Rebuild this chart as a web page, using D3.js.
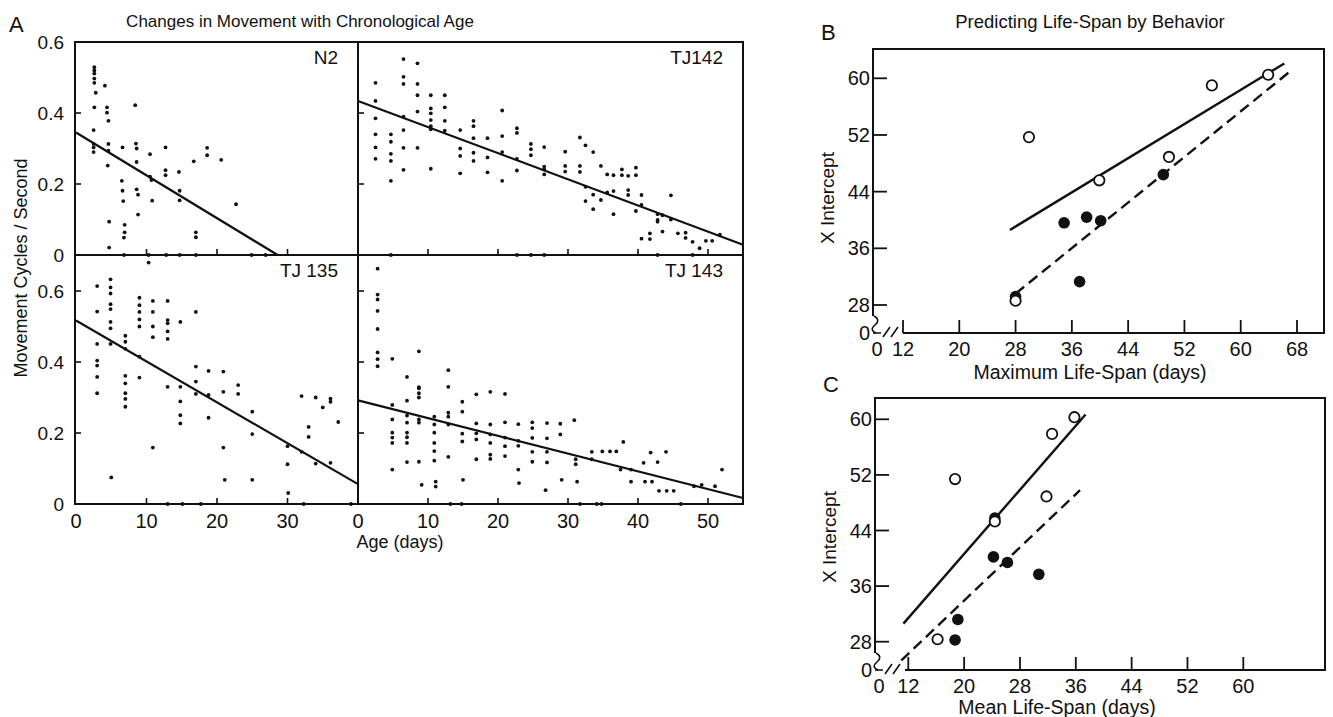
<!DOCTYPE html>
<html><head><meta charset="utf-8">
<script src="https://cdn.jsdelivr.net/npm/d3@7"></script>
<style>
body{margin:0;background:#fff}
svg{display:block}
text{font-family:"Liberation Sans",Arial,sans-serif;fill:#111}
</style>
</head><body>
<svg id="chart" width="1333" height="717"></svg>
<script>
// ---------------- DATA ----------------
// Panel A: [age (days), movement cycles/second]
const n2Points = [[2.6,0.529],[2.6,0.520],[2.6,0.511],[2.6,0.497],[2.6,0.485],[2.8,0.457],[2.6,0.416],[2.5,0.352],[2.5,0.313],[2.5,0.303],[2.5,0.290],
 [4.1,0.477],[4.4,0.416],[4.4,0.401],[4.6,0.378],[4.6,0.313],[4.6,0.294],[4.5,0.252],[4.7,0.094],[4.7,0.021],
 [6.6,0.303],[6.5,0.209],[6.6,0.181],[6.7,0.152],[6.9,0.085],[6.9,0.064],[6.8,0.049],[6.8,0.0],
 [8.4,0.422],[8.5,0.314],[8.6,0.300],[8.6,0.262],[8.6,0.185],[8.8,0.170],[8.8,0.114],
 [10.5,0.284],[10.5,0.221],[10.7,0.211],[10.8,0.153],[10.3,0.0],
 [12.7,0.303],[12.7,0.239],[12.7,0.225],[12.8,0.0],
 [14.6,0.234],[14.7,0.181],[14.7,0.154],[14.7,0.0],
 [16.7,0.264],[17.0,0.064],[17.0,0.050],[17.0,0.0],
 [18.6,0.302],[18.6,0.281],[20.6,0.268],[22.7,0.143],[24.9,0.0],[26.9,0.0]];
const n2Line = [[0,0.345],[28.6,0]];

const tj142Points = [[2.5,0.485],[2.5,0.434],[2.5,0.385],[2.5,0.340],[2.5,0.303],[2.5,0.271],
 [4.7,0.340],[4.7,0.319],[4.7,0.285],[4.7,0.265],[4.7,0.209],[4.7,0.0],
 [6.5,0.552],[6.5,0.502],[6.5,0.482],[6.5,0.390],[6.5,0.352],[6.5,0.302],[6.5,0.240],
 [8.5,0.540],[8.5,0.482],[8.5,0.450],[8.5,0.404],[8.5,0.302],
 [10.4,0.450],[10.4,0.413],[10.4,0.399],[10.4,0.380],[10.4,0.363],[10.4,0.354],[10.4,0.243],
 [12.4,0.450],[12.4,0.416],[12.4,0.378],[12.4,0.350],
 [14.6,0.352],[14.6,0.300],[14.6,0.279],[14.6,0.230],
 [16.5,0.378],[16.5,0.363],[16.5,0.329],[16.5,0.288],[16.5,0.265],
 [18.5,0.329],[18.5,0.275],[18.5,0.233],
 [20.6,0.407],[20.6,0.335],[20.6,0.290],[20.6,0.209],
 [22.7,0.357],[22.7,0.344],[22.7,0.271],[22.7,0.238],[22.7,0.0],
 [24.7,0.313],[24.7,0.298],[24.7,0.281],[24.7,0.0],
 [26.6,0.304],[26.6,0.249],[26.6,0.241],[26.6,0.227],[26.6,0.0],
 [29.6,0.291],[29.6,0.251],[29.6,0.235],
 [31.7,0.331],[31.7,0.251],[31.7,0.234],
 [32.5,0.309],[32.5,0.192],[32.5,0.152],
 [33.6,0.290],[33.6,0.170],[33.6,0.129],
 [34.7,0.251],[34.7,0.155],[35.6,0.227],[35.6,0.176],
 [36.5,0.225],[36.5,0.180],[36.5,0.115],
 [37.7,0.241],[37.7,0.225],[38.6,0.223],[38.6,0.183],[38.6,0.169],
 [39.7,0.246],[39.7,0.225],[39.7,0.124],
 [40.5,0.169],[40.5,0.141],[40.5,0.046],[41.7,0.061],[41.7,0.045],
 [42.8,0.115],[42.8,0.099],[42.8,0.094],[42.8,0.0],[43.5,0.112],[43.5,0.066],
 [44.7,0.168],[44.7,0.100],[45.7,0.061],[46.8,0.063],[46.8,0.048],
 [47.8,0.037],[47.8,0.0],[48.8,0.019],[49.7,0.040],[50.6,0.040],[51.7,0.057]];
const tj142Line = [[0,0.434],[55,0.029]];

const tj135Points = [[3.0,0.614],[3.0,0.542],[3.0,0.451],[3.0,0.404],[3.0,0.390],[3.0,0.358],[3.0,0.312],
 [4.9,0.633],[4.9,0.610],[4.9,0.593],[4.9,0.563],[4.9,0.549],[4.9,0.513],[4.9,0.495],[4.9,0.451],[5.0,0.075],
 [7.0,0.474],[7.0,0.457],[7.0,0.437],[7.0,0.361],[7.0,0.340],[7.0,0.312],[7.0,0.296],[7.0,0.274],
 [9.0,0.581],[9.0,0.560],[9.0,0.541],[9.0,0.520],[9.0,0.500],[9.0,0.415],[9.0,0.356],
 [10.3,0.680],[10.9,0.572],[10.9,0.541],[10.9,0.500],[10.9,0.470],[10.9,0.159],
 [13.0,0.572],[13.0,0.518],[13.0,0.509],[13.0,0.486],[13.0,0.465],[13.0,0.330],[13.0,0.0],
 [14.8,0.513],[14.8,0.330],[14.8,0.289],[14.8,0.250],[14.8,0.227],[15.1,0.0],
 [17.0,0.541],[17.0,0.387],[17.0,0.345],[17.0,0.310],[17.7,0.0],
 [18.8,0.375],[18.8,0.307],[18.8,0.243],
 [20.9,0.373],[20.9,0.316],[20.9,0.159],[21.1,0.068],
 [23.0,0.335],[23.0,0.310],[25.0,0.260],[25.0,0.197],[25.0,0.068],
 [30.0,0.163],[30.0,0.112],[30.1,0.031],[32.0,0.304],[32.0,0.147],[32.3,0.0],
 [33.0,0.217],[33.0,0.189],[34.0,0.300],[34.0,0.114],[35.0,0.272],
 [36.1,0.297],[36.1,0.288],[36.1,0.116],[37.2,0.231],[39.0,0.0]];
const tj135Line = [[0,0.517],[40,0.056]];

const tj143Points = [[2.8,0.663],[2.8,0.590],[2.8,0.576],[2.8,0.544],[2.8,0.493],[2.8,0.427],[2.8,0.408],[2.8,0.388],
 [4.9,0.409],[4.9,0.279],[4.9,0.238],[4.9,0.201],[4.9,0.187],[4.9,0.172],[4.9,0.097],
 [7.0,0.358],[7.0,0.291],[7.0,0.249],[7.0,0.229],[7.0,0.201],[7.0,0.188],[7.0,0.172],[7.0,0.118],
 [8.7,0.430],[8.7,0.329],[8.7,0.326],[8.7,0.312],[8.7,0.300],[8.7,0.238],[8.7,0.229],[8.7,0.119],[9.1,0.054],
 [10.9,0.246],[10.9,0.224],[10.9,0.201],[10.9,0.172],[10.9,0.149],[10.9,0.122],[11.1,0.063],[11.1,0.049],
 [12.9,0.377],[12.9,0.330],[12.9,0.257],[12.9,0.246],[12.9,0.224],[12.9,0.133],[13.2,0.0],
 [14.9,0.288],[14.9,0.260],[14.9,0.198],[14.9,0.176],[15.0,0.068],[14.8,0.0],
 [16.9,0.309],[16.9,0.227],[16.9,0.199],[16.9,0.182],[16.9,0.126],
 [18.9,0.316],[18.9,0.224],[18.9,0.196],[18.9,0.172],[18.9,0.139],[18.9,0.127],
 [21.0,0.310],[21.0,0.230],[21.0,0.187],[21.0,0.163],[21.0,0.135],
 [22.9,0.225],[22.9,0.178],[22.9,0.164],[22.9,0.097],[23.0,0.059],
 [24.9,0.230],[24.9,0.214],[24.9,0.186],[24.9,0.147],[24.9,0.119],
 [27.0,0.228],[27.0,0.185],[27.0,0.147],[27.0,0.117],[26.8,0.039],
 [28.9,0.226],[28.9,0.196],[29.1,0.068],[30.9,0.236],[31.1,0.126],[31.1,0.112],[31.3,0.063],[31.7,0.0],
 [33.4,0.147],[33.4,0.126],[34.1,0.0],[34.8,0.0],[34.9,0.148],[36.0,0.148],[36.9,0.148],
 [37.5,0.097],[37.9,0.175],[39.0,0.097],[39.0,0.063],[40.8,0.116],[41.0,0.063],[41.8,0.145],[42.0,0.063],
 [42.8,0.118],[43.0,0.037],[44.0,0.147],[44.1,0.037],[45.1,0.037],[46.1,0.0],
 [48.0,0.050],[49.1,0.054],[51.0,0.050],[52.0,0.097]];
const tj143Line = [[0,0.292],[55,0.017]];

const ageTicksLeft = [0,10,20,30];
const ageTicksRight = [0,10,20,30,40,50];
const moveTicksTop = [0,0.2,0.4,0.6];
const moveTicksBottom = [0,0.2,0.4,0.6];

// Panel B: [maximum life-span, x intercept]
const bOpen = [[29.9,51.7],[39.9,45.6],[49.8,48.9],[55.9,59.0],[63.9,60.5],[28.0,28.6]];
const bFilled = [[28.0,29.2],[34.9,39.6],[38.1,40.4],[40.1,39.9],[37.1,31.3],[49.0,46.4]];
const bSolid = [[27.2,38.6],[66.2,62.1]];
const bDashed = [[28.0,29.6],[66.8,60.8]];
const bXTicks = [12,20,28,36,44,52,60,68];
const bYTicks = [28,36,44,52,60];

// Panel C: [mean life-span, x intercept]
const cOpen = [[35.8,60.3],[32.6,57.9],[18.7,51.4],[31.8,48.9],[24.4,45.3],[16.2,28.35]];
const cFilled = [[24.4,45.8],[24.2,40.2],[26.2,39.4],[30.7,37.7],[19.1,31.2],[18.7,28.25]];
const cSolid = [[11.3,30.6],[37.4,60.7]];
const cDashed = [[11.0,25.3],[36.6,49.8]];
const cXTicks = [12,20,28,36,44,52,60];
const cYTicks = [28,36,44,52,60];

// ---------------- DRAW ----------------
const svg = d3.select("#chart");
const ink = "#111";

// Panel A geometry
const A = {left:75, mid:358, right:743, top:42, midY:255, bottom:504};
const xL = d3.scaleLinear().domain([0,40]).range([76,358]);
const xR = d3.scaleLinear().domain([0,55]).range([358,743]);
const yT = d3.scaleLinear().domain([0,0.6]).range([A.midY,A.top]);
const yB = d3.scaleLinear().domain([0,0.7]).range([A.bottom,A.bottom-0.7*355]);

const gA = svg.append("g");
function subPanel(x, y, pts, ln, label, clipX0, clipX1, clipY0, clipY1){
  const g = gA.append("g");
  g.selectAll("circle").data(pts).enter().append("circle")
    .attr("cx", d=>x(d[0])).attr("cy", d=>y(d[1])).attr("r",1.9).attr("fill",ink);
  g.append("path").datum(ln)
    .attr("d", d3.line().x(d=>x(d[0])).y(d=>y(d[1])))
    .attr("stroke",ink).attr("stroke-width",2.2).attr("fill","none");
  g.append("text").attr("x",clipX1-20).attr("y",clipY0+22).attr("text-anchor","end")
    .attr("font-size",19).text(label);
}
subPanel(xL,yT,n2Points,n2Line,"N2",A.left,A.mid,A.top,A.midY);
subPanel(xR,yT,tj142Points,tj142Line,"TJ142",A.mid,A.right,A.top,A.midY);
subPanel(xL,yB,tj135Points,tj135Line,"TJ 135",A.left,A.mid,A.midY,A.bottom);
subPanel(xR,yB,tj143Points,tj143Line,"TJ 143",A.mid,A.right,A.midY,A.bottom);

// frame
gA.append("rect").attr("x",A.left).attr("y",A.top).attr("width",A.right-A.left).attr("height",A.bottom-A.top)
  .attr("fill","none").attr("stroke",ink).attr("stroke-width",2);
gA.append("line").attr("x1",A.mid).attr("x2",A.mid).attr("y1",A.top).attr("y2",A.bottom).attr("stroke",ink).attr("stroke-width",2);
gA.append("line").attr("x1",A.left).attr("x2",A.right).attr("y1",A.midY).attr("y2",A.midY).attr("stroke",ink).attr("stroke-width",2);

// ticks (inward)
function xTicksInward(x, ticks, yBase){
  gA.append("g").selectAll("line").data(ticks.filter(t=>t>0)).enter().append("line")
    .attr("x1",d=>x(d)).attr("x2",d=>x(d)).attr("y1",yBase).attr("y2",yBase-6)
    .attr("stroke",ink).attr("stroke-width",1.6);
}
xTicksInward(xL,ageTicksLeft,A.midY); xTicksInward(xR,ageTicksRight,A.midY);
xTicksInward(xL,ageTicksLeft,A.bottom); xTicksInward(xR,ageTicksRight,A.bottom);
function yTicksInward(y, ticks, xBase){
  gA.append("g").selectAll("line").data(ticks.filter(t=>t>0 && t<0.6)).enter().append("line")
    .attr("x1",xBase).attr("x2",xBase+6).attr("y1",d=>y(d)).attr("y2",d=>y(d))
    .attr("stroke",ink).attr("stroke-width",1.6);
}
yTicksInward(yT,moveTicksTop,A.left); yTicksInward(yT,moveTicksTop,A.mid);
gA.append("g").selectAll("line").data(moveTicksBottom.filter(t=>t>0)).enter().append("line")
  .attr("x1",A.left).attr("x2",A.left+6).attr("y1",d=>yB(d)).attr("y2",d=>yB(d)).attr("stroke",ink).attr("stroke-width",1.6);
gA.append("g").selectAll("line").data(moveTicksBottom.filter(t=>t>0)).enter().append("line")
  .attr("x1",A.mid).attr("x2",A.mid+6).attr("y1",d=>yB(d)).attr("y2",d=>yB(d)).attr("stroke",ink).attr("stroke-width",1.6);

// tick labels
const fmtA = d => d===0 ? "0" : d3.format(".1f")(d);
gA.append("g").selectAll("text").data(moveTicksTop.filter(t=>t>0)).enter().append("text")
  .attr("x",64).attr("y",d=>yT(d)+7).attr("text-anchor","end").attr("font-size",19).text(fmtA);
gA.append("g").selectAll("text").data(moveTicksBottom).enter().append("text")
  .attr("x",64).attr("y",d=>yB(d)+7).attr("text-anchor","end").attr("font-size",19).text(fmtA);
gA.append("text").attr("x",64).attr("y",A.midY+7).attr("text-anchor","end").attr("font-size",19).text("0");
gA.append("g").selectAll("text").data(ageTicksLeft).enter().append("text")
  .attr("x",d=>xL(d)).attr("y",528).attr("text-anchor","middle").attr("font-size",20).text(d=>d);
gA.append("g").selectAll("text").data(ageTicksRight).enter().append("text")
  .attr("x",d=>xR(d)).attr("y",528).attr("text-anchor","middle").attr("font-size",20).text(d=>d);

gA.append("text").attr("x",400).attr("y",548).attr("text-anchor","middle").attr("font-size",18).text("Age (days)");
gA.append("text").attr("transform","translate(27,268) rotate(-90)").attr("text-anchor","middle")
  .attr("font-size",18).text("Movement Cycles / Second");
gA.append("text").attr("x",300).attr("y",27).attr("text-anchor","middle").attr("font-size",17)
  .text("Changes in Movement with Chronological Age");
gA.append("text").attr("x",9).attr("y",32).attr("font-size",22).text("A");

// ---------- Panels B and C ----------
function lifePanel(cfg){
  const g = svg.append("g");
  const x = d3.scaleLinear().domain(cfg.xDom).range(cfg.xRange);
  const y = d3.scaleLinear().domain([28,60]).range(cfg.yRange);
  const L = cfg.frame.left, R = cfg.frame.right, T = cfg.frame.top, B = cfg.frame.bottom;
  g.append("path").attr("d",`M${L},${B-17} L${L},${T} L${R},${T} L${R},${B} L${L+30},${B}`)
    .attr("fill","none").attr("stroke",ink).attr("stroke-width",2);
  g.append("path").attr("d",`M${L+1},${B-17} q7,4 1,9 q-6,5 1,8`).attr("fill","none").attr("stroke",ink).attr("stroke-width",1.6);
  g.append("path").attr("d",`M${L},${B} L${L+8},${B} M${L+10},${B+4} l7,-10 M${L+18},${B+4} l7,-10`)
    .attr("fill","none").attr("stroke",ink).attr("stroke-width",1.6);
  g.selectAll(".xt").data(cfg.xTicks).enter().append("line")
    .attr("x1",d=>x(d)).attr("x2",d=>x(d)).attr("y1",B).attr("y2",B-13).attr("stroke",ink).attr("stroke-width",1.8);
  g.selectAll(".yt").data(cfg.yTicks).enter().append("line")
    .attr("x1",L).attr("x2",L+14).attr("y1",d=>y(d)).attr("y2",d=>y(d)).attr("stroke",ink).attr("stroke-width",1.8);
  g.selectAll(".xl").data(cfg.xTicks).enter().append("text")
    .attr("x",d=>x(d)).attr("y",cfg.xLabelY).attr("text-anchor","middle").attr("font-size",20).text(d=>d);
  g.append("text").attr("x",L+4).attr("y",cfg.xLabelY).attr("text-anchor","middle").attr("font-size",20).text("0");
  g.selectAll(".yl").data(cfg.yTicks).enter().append("text")
    .attr("x",L-3).attr("y",d=>y(d)+7).attr("text-anchor","end").attr("font-size",20).text(d=>d);
  g.append("text").attr("x",L-3).attr("y",B+7).attr("text-anchor","end").attr("font-size",20).text("0");
  g.append("text").attr("transform",`translate(${L-39},${cfg.yTitleY}) rotate(-90)`).attr("text-anchor","middle")
    .attr("font-size",19).text("X Intercept");
  g.append("text").attr("x",cfg.xTitleX).attr("y",cfg.xTitleY).attr("text-anchor","middle").attr("font-size",19.5).text(cfg.xTitle);
  g.append("text").attr("x",L-52).attr("y",cfg.letterY).attr("font-size",22).text(cfg.letter);
  const lg = d3.line().x(d=>x(d[0])).y(d=>y(d[1]));
  g.append("path").datum(cfg.solid).attr("d",lg).attr("stroke",ink).attr("stroke-width",2.4).attr("fill","none");
  g.append("path").datum(cfg.dashed).attr("d",lg).attr("stroke",ink).attr("stroke-width",2.4).attr("fill","none")
    .attr("stroke-dasharray","11,6");
  g.selectAll(".f").data(cfg.filled).enter().append("circle")
    .attr("cx",d=>x(d[0])).attr("cy",d=>y(d[1])).attr("r",5.8).attr("fill",ink);
  g.selectAll(".o").data(cfg.open).enter().append("circle")
    .attr("cx",d=>x(d[0])).attr("cy",d=>y(d[1])).attr("r",5.2).attr("fill","#fff").attr("stroke",ink).attr("stroke-width",1.8);
}
lifePanel({xDom:[12,68], xRange:[903,1297], yRange:[305,78.3],
  frame:{left:873,right:1324,top:49,bottom:333},
  xTicks:bXTicks, yTicks:bYTicks, xLabelY:356, yTitleY:198, xTitle:"Maximum Life-Span (days)", xTitleX:1090, xTitleY:379,
  letter:"B", letterY:40, open:bOpen, filled:bFilled, solid:bSolid, dashed:bDashed});
lifePanel({xDom:[12,60], xRange:[908.3,1243.3], yRange:[641.7,419.3],
  frame:{left:875,right:1325,top:398,bottom:670},
  xTicks:cXTicks, yTicks:cYTicks, xLabelY:693, yTitleY:537, xTitle:"Mean Life-Span (days)", xTitleX:1057, xTitleY:714,
  letter:"C", letterY:392, open:cOpen, filled:cFilled, solid:cSolid, dashed:cDashed});
svg.append("text").attr("x",1090).attr("y",28).attr("text-anchor","middle").attr("font-size",18.5)
  .text("Predicting Life-Span by Behavior");
</script>
</body></html>
